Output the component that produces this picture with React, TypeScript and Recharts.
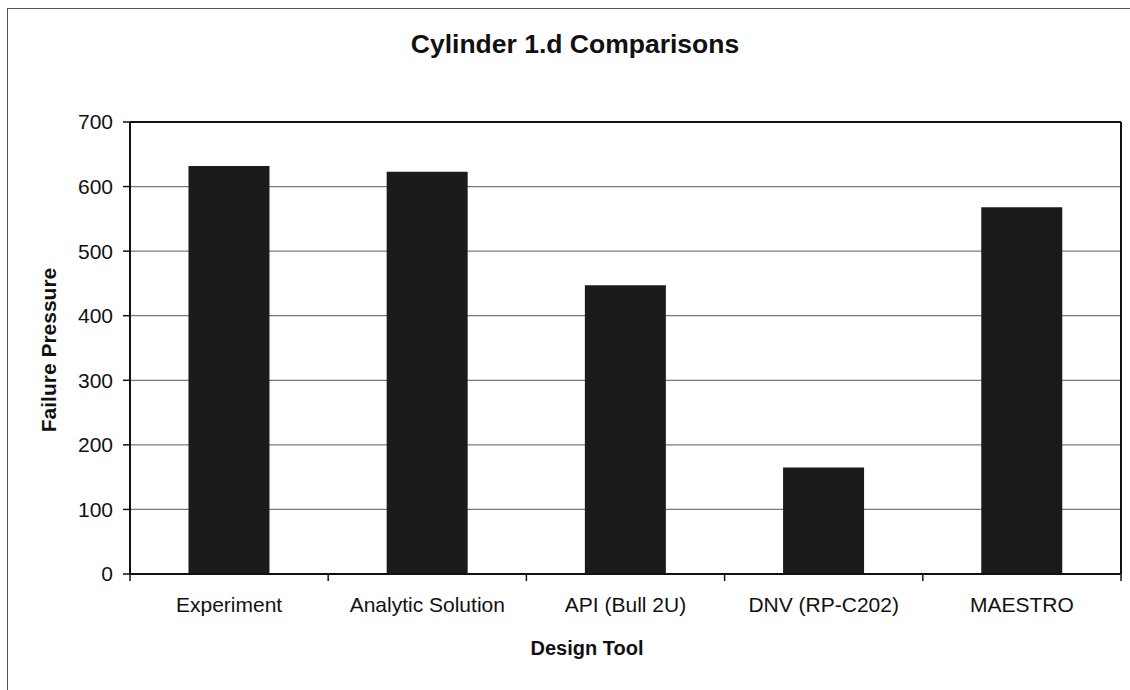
import React from 'react';
import { BarChart, Bar, XAxis, YAxis, CartesianGrid, ReferenceLine } from 'recharts';

const categories = ['Experiment', 'Analytic Solution', 'API (Bull 2U)', 'DNV (RP-C202)', 'MAESTRO'];
const failurePressure = [632, 623, 447, 165, 568];
const yTicks = [0, 100, 200, 300, 400, 500, 600, 700];

const data = categories.map((name, i) => ({ name, pressure: failurePressure[i] }));

const WIDTH = 1130;
const HEIGHT = 690;
const MARGIN = { top: 122, right: 8, bottom: 56, left: 60 };
const Y_AXIS_W = 70;
const X_AXIS_H = 60;
const PLOT_W = WIDTH - MARGIN.left - Y_AXIS_W - MARGIN.right - 1;
const BAND = PLOT_W / categories.length;
const FONT = '"Liberation Sans", Arial, Helvetica, sans-serif';
const INK = '#111';

// Excel style: tick marks sit between categories, not under them
const CategoryTick = (props: any) => {
  const { x, y, payload, index } = props;
  const last = index === categories.length - 1;
  return (
    <g>
      <line x1={x - BAND / 2} x2={x - BAND / 2} y1={y} y2={y + 7} stroke={INK} strokeWidth={1.5} />
      {last && <line x1={x + BAND / 2} x2={x + BAND / 2} y1={y} y2={y + 7} stroke={INK} strokeWidth={1.5} />}
      <text x={x} y={y + 38} textAnchor="middle" fontSize={21} fill={INK} fontFamily={FONT}>
        {payload.value}
      </text>
    </g>
  );
};

const App: React.FC = () => {
  return (
    <div
      style={{
        position: 'absolute',
        left: 0,
        top: 0,
        width: WIDTH,
        height: HEIGHT,
        overflow: 'hidden',
        background: '#fff',
        fontFamily: FONT,
      }}
    >
      <div
        style={{
          position: 'absolute',
          left: 7,
          top: 8,
          width: 1300,
          height: 900,
          borderLeft: '1.5px solid #555',
          borderTop: '1.5px solid #555',
        }}
      />
      <BarChart width={WIDTH} height={HEIGHT} data={data} margin={MARGIN} barCategoryGap="29.5%">
        <CartesianGrid vertical={false} stroke="#7a7a7a" strokeWidth={1.2} />
        <XAxis
          dataKey="name"
          height={X_AXIS_H}
          interval={0}
          tickLine={false}
          tickSize={0}
          tickMargin={0}
          axisLine={{ stroke: INK, strokeWidth: 2 }}
          tick={<CategoryTick />}
        />
        <YAxis
          width={Y_AXIS_W}
          domain={[0, 700]}
          ticks={yTicks}
          interval={0}
          tickSize={7}
          tickMargin={10}
          axisLine={{ stroke: INK, strokeWidth: 2 }}
          tickLine={{ stroke: INK, strokeWidth: 1.5 }}
          tick={{ fontSize: 21, fill: INK, fontFamily: FONT }}
        />
        <YAxis
          yAxisId="right"
          orientation="right"
          width={1}
          domain={[0, 700]}
          tick={false}
          tickLine={false}
          axisLine={{ stroke: INK, strokeWidth: 2 }}
        />
        <ReferenceLine y={700} stroke={INK} strokeWidth={2} />
        <Bar dataKey="pressure" fill="#1b1b1b" isAnimationActive={false} />
      </BarChart>
      <svg
        width={WIDTH}
        height={HEIGHT}
        style={{ position: 'absolute', left: 0, top: 0, pointerEvents: 'none' }}
      >
        <text x={575} y={53} textAnchor="middle" fontSize={26.5} fontWeight="bold" fill={INK} fontFamily={FONT}>
          Cylinder 1.d Comparisons
        </text>
        <text x={587} y={655} textAnchor="middle" fontSize={20} fontWeight="bold" fill={INK} fontFamily={FONT}>
          Design Tool
        </text>
        <text
          x={56}
          y={350}
          transform="rotate(-90 56 350)"
          textAnchor="middle"
          fontSize={21}
          fontWeight="bold"
          fill={INK}
          fontFamily={FONT}
        >
          Failure Pressure
        </text>
      </svg>
    </div>
  );
};

export default App;
